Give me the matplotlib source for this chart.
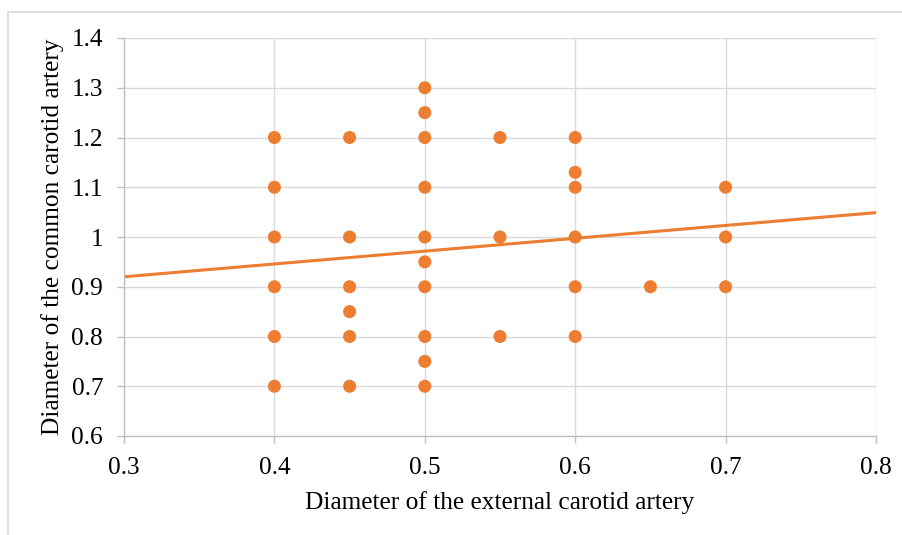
import numpy as np
import matplotlib
matplotlib.use("Agg")
import matplotlib.pyplot as plt
from matplotlib.patches import Rectangle

# diameters (cm)
external = [0.4, 0.4, 0.4, 0.4, 0.4, 0.4,
            0.45, 0.45, 0.45, 0.45, 0.45, 0.45,
            0.5, 0.5, 0.5, 0.5, 0.5, 0.5, 0.5, 0.5, 0.5, 0.5,
            0.55, 0.55, 0.55,
            0.6, 0.6, 0.6, 0.6, 0.6, 0.6,
            0.65,
            0.7, 0.7, 0.7]
common = [1.2, 1.1, 1.0, 0.9, 0.8, 0.7,
          1.2, 1.0, 0.9, 0.85, 0.8, 0.7,
          1.3, 1.25, 1.2, 1.1, 1.0, 0.95, 0.9, 0.8, 0.75, 0.7,
          1.2, 1.0, 0.8,
          1.2, 1.13, 1.1, 1.0, 0.9, 0.8,
          0.9,
          1.1, 1.0, 0.9]

# linear trend line ends
trend_x = [0.3, 0.8]
trend_y = [0.92, 1.049]

x_ticks = [0.3, 0.4, 0.5, 0.6, 0.7, 0.8]
x_labels = ["0.3", "0.4", "0.5", "0.6", "0.7", "0.8"]
y_ticks = [0.6, 0.7, 0.8, 0.9, 1.0, 1.1, 1.2, 1.3, 1.4]
y_labels = ["0.6", "0.7", "0.8", "0.9", "1", "1.1", "1.2", "1.3", "1.4"]

orange = "#ED7D31"
plt.rcParams["font.family"] = ["Liberation Serif", "DejaVu Serif"]

fig = plt.figure(figsize=(9.02, 5.35), dpi=100)
# light frame around the whole chart
fig.patches.append(Rectangle((8 / 902, -0.05), 1.0, 1.05 - 12 / 535, transform=fig.transFigure,
                             fill=False, edgecolor="#D9D9D9", linewidth=1.2))

ax = fig.add_axes([124 / 902, 99 / 535, 752 / 902, 398 / 535])
ax.plot(trend_x, trend_y, color=orange, linewidth=2.2, zorder=2)
ax.scatter(external, common, s=88, color=orange, edgecolors="none", zorder=3)

ax.set_xlim(0.3, 0.8)
ax.set_ylim(0.6, 1.4)
ax.set_xticks(x_ticks)
ax.set_xticklabels(x_labels, fontsize=18.3)
ax.set_yticks(y_ticks)
ax.set_yticklabels(y_labels, fontsize=18.3)
ax.grid(True, color="#D9D9D9", linewidth=1.0, zorder=0)
ax.set_axisbelow(True)

for side in ["top", "right"]:
    ax.spines[side].set_visible(False)
for side in ["left", "bottom"]:
    ax.spines[side].set_color("#BFBFBF")
    ax.spines[side].set_linewidth(1.0)
ax.tick_params(axis="both", length=5, width=1.0, color="#BFBFBF")
ax.tick_params(axis="x", pad=10)
ax.tick_params(axis="y", pad=10)

ax.set_xlabel("Diameter of the external carotid artery", fontsize=18.3)
ax.set_ylabel("Diameter of the common carotid artery", fontsize=18.3, va="center")
ax.xaxis.set_label_coords(0.5, -0.138)
ax.yaxis.set_label_coords(-0.0957, 0.5)

fig.savefig("out.png", dpi=100)
